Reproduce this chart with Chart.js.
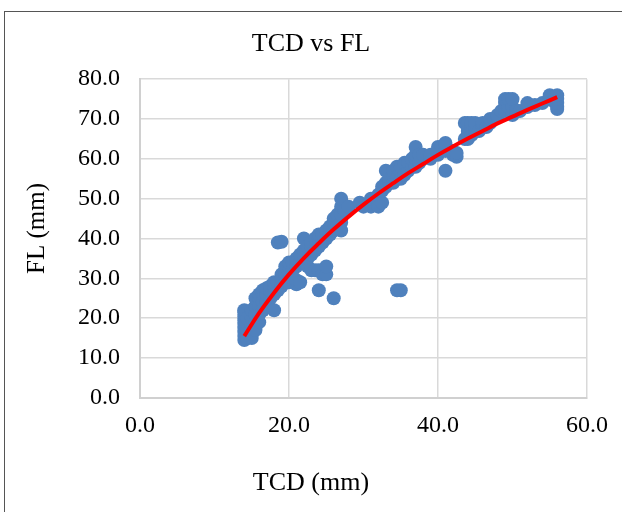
<!DOCTYPE html>
<html>
<head>
<meta charset="utf-8">
<script src="https://cdn.jsdelivr.net/npm/chart.js@4.4.1/dist/chart.umd.min.js"></script>
<style>
  html,body{margin:0;padding:0;background:#fff;overflow:hidden;}
  #frame{position:absolute;left:4px;top:11px;width:700px;height:600px;border:1.5px solid #555;box-sizing:border-box;}
  #wrap{position:absolute;left:0;top:0;width:622px;height:512px;}
</style>
</head>
<body>
<div id="frame"></div>
<div id="wrap"><canvas id="c" width="622" height="512"></canvas></div>
<script>
const chartTitle = "TCD vs FL";
const xAxisTitle = "TCD (mm)";
const yAxisTitle = "FL (mm)";
const xTickValues = [0, 20, 40, 60];
const yTickValues = [0, 10, 20, 30, 40, 50, 60, 70, 80];

const tcdValues = [
  14,14,14,14,14,14,14,14,14, 14.4,14.4,14.4,
  15,15,15,15,15, 15.5,15.5,15.5,15.5,15.5,
  16,16,16,16,16, 16.5,16.5,16.5,16.5, 17,17,17, 17.5,17.5,17.5,
  18,18,18,18, 18.5,18.5,18.5, 19,19,19,19, 19.5,19.5,19.5,
  20,20,20,20, 20.5,20.5,20.5, 21,21,21,21, 21.5,21.5,21.5,
  22,22,22,22, 22.5,22.5,22.5, 23,23,23,23, 23.5,23.5,23.5,
  24,24,24,24,24, 24.5,24.5,24.5, 25,25,25,25, 25.5,25.5,
  26,26,26,26, 26.5,26.5, 27,27,27,27,27, 27.5, 28, 29.5, 30,
  31,31, 32,32, 32.5,32.5,32.5, 33,33,33, 33.5,33.5, 34,34,34,
  34.5,34.5,34.5, 35,35,35,35, 35.5,35.5, 36,36, 36.5,36.5,
  37,37,37,37, 37.5,37.5, 38,38, 39,39, 40,40,40, 40.5,
  41,41,41, 42,42, 42.5,42.5, 43.6,43.6,
  44,44,44,44,44, 44.5,44.5,44.5, 45,45,45, 45.5, 46,46, 46.5,
  47,47, 47.5, 48,48, 48.5, 49,49,49, 49.5,49.5, 50,50,50, 50.5,
  51, 52,52, 53, 54, 55,55, 55.5, 56,56,56,56,56
];
const flValues = [
  14.5,15.5,16.5,17.5,18.5,19.5,20.5,21.5,22, 15,17,20,
  15,16,18,20,22, 17,19,21,23,25,
  19,21,23,25,26, 22,24,26,27, 24,26,27.5, 25,27,28,
  22,26,28,29, 27,29,39, 28,30,31,39.2, 29,31,33,
  29,31.5,33,34, 30,32,34, 28.5,29.5,33,35, 29,34,36,
  34,36,37,40, 33,35,38, 32,36,38,39, 32,37,40,
  27,32,38,40,41, 31,39,41, 31,33,40,42, 41,43,
  25,42,44,45, 43,46, 42,44,46,48,50, 47, 48, 49, 48,
  48,50, 48,51, 49,52,53, 53,54,57, 54,55, 54,56,57,
  27,55,58, 27,55,57,58, 56,59, 57,59, 58,60,
  58,60,61,63, 59,61, 60,61, 60,61, 61,62,63, 63,
  57,62,64, 61,62, 60.5,61.5, 65,69,
  65,66,67,68,69, 66,68,69, 67,68,69, 67, 68,69, 68,
  69,70, 70, 70.5,71, 72, 72,74,75, 73,75, 71,73,75, 72,
  72, 73,74, 73.5, 74, 75,76, 74.5, 72.5,73,74,75,76
];

// Trendline
const trendTcd = [14,16,18,20,22,24,26,28,30,32,34,36,38,40,42,44,46,48,50,52,54,56];
const trendFl  = [15.5,21.3,26.4,31.0,35.1,38.8,42.3,45.5,48.5,51.3,53.9,56.4,58.7,61.0,63.1,65.1,67.0,68.9,70.6,72.3,73.9,75.5];

const scatterData = tcdValues.map((x, i) => ({x: x, y: flValues[i]}));
const trendData = trendTcd.map((x, i) => ({x: x, y: trendFl[i]}));

const serif = "'Liberation Serif', 'Times New Roman', serif";

// Center title blocks over the full canvas width (as in the reference),
// and nudge the y-axis title slightly upward.
const layoutTweaks = {
  id: 'layoutTweaks',
  afterLayout(chart) {
    chart.boxes.forEach(b => {
      if (b.options && b.options.text !== undefined && b.fullSize && (b.position === 'top' || b.position === 'bottom')) {
        b.left = 0; b.right = chart.width; b.width = chart.width;
      }
    });
    const ys = chart.scales.y;
    if (ys && !ys._titleShifted) {
      const orig = ys.drawTitle;
      ys.drawTitle = function() {
        const ctx = this.ctx;
        ctx.save();
        ctx.translate(0, -10);
        orig.apply(this, arguments);
        ctx.restore();
      };
      ys._titleShifted = true;
    }
  }
};

new Chart(document.getElementById('c'), {
  type: 'scatter',
  data: {
    datasets: [
      {
        label: 'Trend',
        data: trendData,
        showLine: true,
        borderColor: '#FF0000',
        borderWidth: 4,
        pointRadius: 0,
        tension: 0.4,
        fill: false,
        order: 0
      },
      {
        label: 'FL',
        data: scatterData,
        backgroundColor: '#4F81BD',
        borderColor: '#4F81BD',
        borderWidth: 0,
        pointRadius: 7,
        order: 1
      }
    ]
  },
  plugins: [layoutTweaks],
  options: {
    responsive: false,
    animation: false,
    layout: { padding: { left: 0, right: 34, top: 0, bottom: 0 } },
    plugins: {
      legend: { display: false },
      tooltip: { enabled: false },
      title: {
        display: true,
        text: chartTitle,
        color: '#000',
        font: { family: serif, size: 26, weight: 'normal', lineHeight: 1.2 },
        padding: { top: 29, bottom: 19 }
      },
      subtitle: {
        display: true,
        position: 'bottom',
        text: xAxisTitle,
        color: '#000',
        font: { family: serif, size: 26, weight: 'normal', lineHeight: 1.2 },
        padding: { top: 0, bottom: 13 }
      }
    },
    scales: {
      x: {
        type: 'linear',
        min: 0, max: 60,
        afterBuildTicks: s => { s.ticks = xTickValues.map(v => ({value: v})); },
        afterFit: s => { s.height = 70; },
        grid: { color: '#D9D9D9', lineWidth: 1.5, drawTicks: false },
        border: { color: '#D0D0D0', width: 2 },
        ticks: {
          color: '#000',
          font: { family: serif, size: 24 },
          padding: 14,
          maxRotation: 0,
          callback: v => Number(v).toFixed(1)
        },
        title: { display: false }
      },
      y: {
        type: 'linear',
        min: 0, max: 80,
        afterBuildTicks: s => { s.ticks = yTickValues.map(v => ({value: v})); },
        afterFit: s => { s.width = 140; },
        grid: { color: '#D9D9D9', lineWidth: 1.5, drawTicks: false },
        border: { color: '#D0D0D0', width: 2 },
        ticks: {
          color: '#000',
          font: { family: serif, size: 24 },
          padding: 20,
          callback: v => Number(v).toFixed(1)
        },
        title: {
          display: true,
          text: yAxisTitle,
          color: '#000',
          font: { family: serif, size: 25 },
          padding: { top: 22, bottom: 0 }
        }
      }
    }
  }
});
</script>
</body>
</html>
